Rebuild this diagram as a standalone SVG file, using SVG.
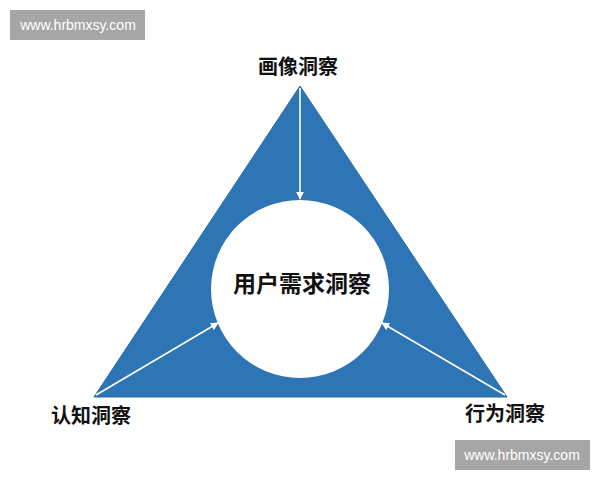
<svg xmlns="http://www.w3.org/2000/svg" width="600" height="480" viewBox="0 0 600 480">
<style>
.lbl{font-family:"Liberation Sans","Noto Sans CJK SC",sans-serif;font-weight:bold;fill:#111;text-anchor:middle;dominant-baseline:central}
.wm rect{fill:#a6a6a6}
.wm text{font-family:"Liberation Sans",sans-serif;font-size:14px;fill:#fff;text-anchor:middle;dominant-baseline:central}
.conn line{stroke:#ffffff;stroke-width:1.6;marker-end:url(#ah)}
</style>
<defs>
<marker id="ah" viewBox="0 0 10 10" refX="9" refY="5" markerWidth="5" markerHeight="5" orient="auto" markerUnits="strokeWidth">
<path d="M0,0 L10,5 L0,10 z" fill="#ffffff"/>
</marker>
</defs>
<rect width="600" height="480" fill="#ffffff"/>
<g id="triangle">
<polygon points="300,86 94,397 507,397" fill="#2e75b6" stroke="#2a6aa6" stroke-width="1"/>
</g>
<g id="center">
<circle cx="300" cy="289" r="89" fill="#ffffff"/>
<text class="lbl" x="302" y="284" font-size="23">用户需求洞察</text>
</g>
<g class="conn" id="connectors">
<line x1="300" y1="88" x2="300" y2="199"/>
<line x1="96" y1="395" x2="218" y2="323"/>
<line x1="505" y1="395" x2="382" y2="323"/>
</g>
<g id="top">
<text class="lbl" x="298" y="67" font-size="20">画像洞察</text>
</g>
<g id="left">
<text class="lbl" x="91" y="416" font-size="20">认知洞察</text>
</g>
<g id="right">
<text class="lbl" x="505" y="414" font-size="20">行为洞察</text>
</g>
<g class="wm" id="wm1">
<rect x="10" y="10" width="135" height="30"/>
<text x="78" y="25">www.hrbmxsy.com</text>
</g>
<g class="wm" id="wm2">
<rect x="455" y="440" width="135" height="30"/>
<text x="522" y="455">www.hrbmxsy.com</text>
</g>
</svg>
